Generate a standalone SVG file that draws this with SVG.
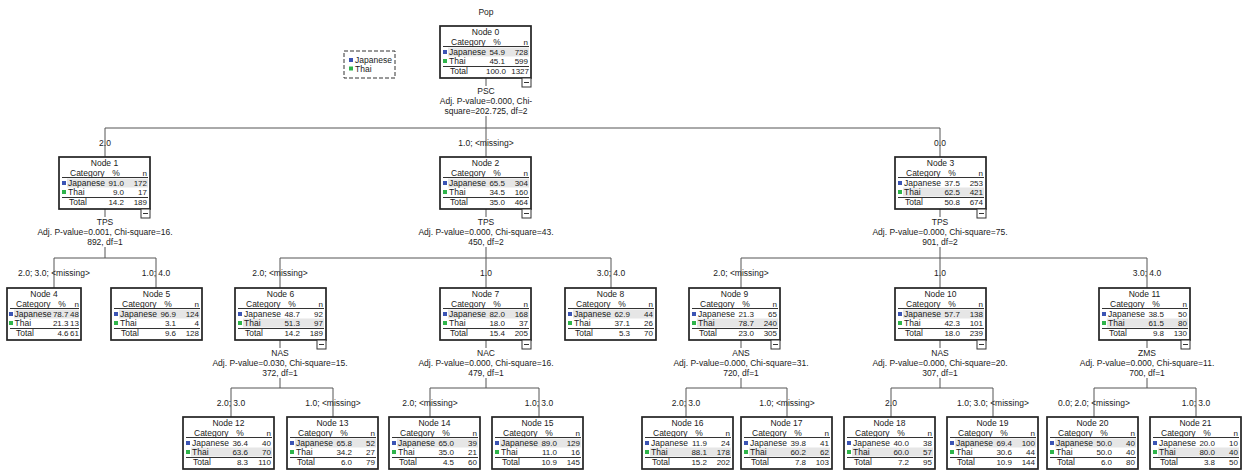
<svg xmlns="http://www.w3.org/2000/svg" width="1246" height="475" viewBox="0 0 1246 475">
<style>
text{font-family:"Liberation Sans",Arial,sans-serif;font-size:8.5px;fill:#1a1a1a}
.m{text-anchor:middle}
.e{text-anchor:end;font-size:8px}
.box{fill:#fff;stroke:#222;stroke-width:1.7}
.rule{stroke:#333;stroke-width:1.2}
.hl{fill:#e6e6e6}
.sj{fill:#3b54b4}
.st{fill:#2fb44a}
.cb{fill:#fff;stroke:#333;stroke-width:1}
.minus{stroke:#333;stroke-width:1}
.c{stroke:#555;stroke-width:1;fill:none}
.leg{fill:#fff;stroke:#333;stroke-width:1;stroke-dasharray:4 2}
</style>
<rect width="1246" height="475" fill="#fff"/>
<text class="m" x="486" y="15">Pop</text>
<g id="legend">
<rect class="leg" x="344" y="51" width="51" height="27"/>
<rect class="sj" x="349" y="58" width="4" height="4"/>
<text x="355" y="63">Japanese</text>
<rect class="st" x="349" y="66.5" width="4" height="4"/>
<text x="355" y="71.5">Thai</text>
</g>
<g id="connectors">
<path class="c" d="M486 78V86M486 116V128M105 128H940M105 128V157M486 128V157M940 128V157"/>
<path class="c" d="M105 209V217M105 247V258M54 258H156M54 258V288M156 258V288"/>
<path class="c" d="M486 209V217M486 247V258M280 258H611M280 258V288M486 258V288M611 258V288"/>
<path class="c" d="M940 209V217M940 247V258M741 258H1147M741 258V288M940 258V288M1147 258V288"/>
<path class="c" d="M280 340V348M280 378V388M231 388H333M231 388V417M333 388V417"/>
<path class="c" d="M486 340V348M486 378V388M430 388H539M430 388V417M539 388V417"/>
<path class="c" d="M741 340V348M741 378V388M686 388H787M686 388V417M787 388V417"/>
<path class="c" d="M940 340V348M940 378V388M891 388H993M891 388V417M993 388V417"/>
<path class="c" d="M1147 340V348M1147 378V388M1094 388H1196M1094 388V417M1196 388V417"/>
</g>
<g id="labels">
<text class="m" x="486" y="94">PSC</text>
<text class="m" x="486" y="104">Adj. P-value=0.000, Chi-</text>
<text class="m" x="486" y="114">square=202.725, df=2</text>
<text class="m" x="105" y="146">2.0</text>
<text class="m" x="486" y="146">1.0;  &lt;missing&gt;</text>
<text class="m" x="940" y="146">0.0</text>
<text class="m" x="105" y="225">TPS</text>
<text class="m" x="105" y="235">Adj. P-value=0.001, Chi-square=16.</text>
<text class="m" x="105" y="245">892, df=1</text>
<text class="m" x="486" y="225">TPS</text>
<text class="m" x="486" y="235">Adj. P-value=0.000, Chi-square=43.</text>
<text class="m" x="486" y="245">450, df=2</text>
<text class="m" x="940" y="225">TPS</text>
<text class="m" x="940" y="235">Adj. P-value=0.000, Chi-square=75.</text>
<text class="m" x="940" y="245">901, df=2</text>
<text class="m" x="54" y="276">2.0; 3.0;  &lt;missing&gt;</text>
<text class="m" x="156" y="276">1.0; 4.0</text>
<text class="m" x="280" y="276">2.0;  &lt;missing&gt;</text>
<text class="m" x="486" y="276">1.0</text>
<text class="m" x="611" y="276">3.0; 4.0</text>
<text class="m" x="741" y="276">2.0;  &lt;missing&gt;</text>
<text class="m" x="940" y="276">1.0</text>
<text class="m" x="1147" y="276">3.0; 4.0</text>
<text class="m" x="280" y="356">NAS</text>
<text class="m" x="280" y="366">Adj. P-value=0.030, Chi-square=15.</text>
<text class="m" x="280" y="376">372, df=1</text>
<text class="m" x="486" y="356">NAC</text>
<text class="m" x="486" y="366">Adj. P-value=0.000, Chi-square=16.</text>
<text class="m" x="486" y="376">479, df=1</text>
<text class="m" x="741" y="356">ANS</text>
<text class="m" x="741" y="366">Adj. P-value=0.000, Chi-square=31.</text>
<text class="m" x="741" y="376">720, df=1</text>
<text class="m" x="940" y="356">NAS</text>
<text class="m" x="940" y="366">Adj. P-value=0.000, Chi-square=20.</text>
<text class="m" x="940" y="376">307, df=1</text>
<text class="m" x="1147" y="356">ZMS</text>
<text class="m" x="1147" y="366">Adj. P-value=0.000, Chi-square=11.</text>
<text class="m" x="1147" y="376">700, df=1</text>
<text class="m" x="231" y="406">2.0; 3.0</text>
<text class="m" x="333" y="406">1.0;  &lt;missing&gt;</text>
<text class="m" x="430" y="406">2.0;  &lt;missing&gt;</text>
<text class="m" x="539" y="406">1.0; 3.0</text>
<text class="m" x="686" y="406">2.0; 3.0</text>
<text class="m" x="787" y="406">1.0;  &lt;missing&gt;</text>
<text class="m" x="891" y="406">2.0</text>
<text class="m" x="993" y="406">1.0; 3.0;  &lt;missing&gt;</text>
<text class="m" x="1094" y="406">0.0; 2.0;  &lt;missing&gt;</text>
<text class="m" x="1196" y="406">1.0; 3.0</text>
</g>
<g id="node-0" transform="translate(440,26)">
<rect class="box" width="91" height="52"/><text class="m" x="45.5" y="9">Node 0</text>
<text x="11" y="19">Category</text><text class="m" x="57" y="19">%</text><text class="e" x="88" y="19">n</text>
<line class="rule" x1="3" y1="20.5" x2="89" y2="20.5"/><rect class="hl" x="8" y="21.5" width="81" height="9"/>
<rect class="sj" x="3" y="24" width="4" height="4"/><text x="9" y="29">Japanese</text><text class="e" x="65" y="29">54.9</text><text class="e" x="88" y="29">728</text>
<rect class="st" x="3" y="33" width="4" height="4"/><text x="9" y="38">Thai</text><text class="e" x="65" y="38">45.1</text><text class="e" x="88" y="38">599</text>
<line class="rule" x1="3" y1="40.5" x2="89" y2="40.5"/><text x="10" y="48">Total</text><text class="e" x="66" y="48">100.0</text><text class="e" x="89" y="48">1327</text>
<rect class="cb" x="82" y="52" width="9" height="9"/><line class="minus" x1="84" y1="56.5" x2="89" y2="56.5"/>
</g>
<g id="node-1" transform="translate(59,157)">
<rect class="box" width="91" height="52"/><text class="m" x="45.5" y="9">Node 1</text>
<text x="11" y="19">Category</text><text class="m" x="57" y="19">%</text><text class="e" x="88" y="19">n</text>
<line class="rule" x1="3" y1="20.5" x2="89" y2="20.5"/><rect class="hl" x="8" y="21.5" width="81" height="9"/>
<rect class="sj" x="3" y="24" width="4" height="4"/><text x="9" y="29">Japanese</text><text class="e" x="65" y="29">91.0</text><text class="e" x="88" y="29">172</text>
<rect class="st" x="3" y="33" width="4" height="4"/><text x="9" y="38">Thai</text><text class="e" x="65" y="38">9.0</text><text class="e" x="88" y="38">17</text>
<line class="rule" x1="3" y1="40.5" x2="89" y2="40.5"/><text x="10" y="48">Total</text><text class="e" x="65" y="48">14.2</text><text class="e" x="88" y="48">189</text>
<rect class="cb" x="82" y="52" width="9" height="9"/><line class="minus" x1="84" y1="56.5" x2="89" y2="56.5"/>
</g>
<g id="node-2" transform="translate(440,157)">
<rect class="box" width="91" height="52"/><text class="m" x="45.5" y="9">Node 2</text>
<text x="11" y="19">Category</text><text class="m" x="57" y="19">%</text><text class="e" x="88" y="19">n</text>
<line class="rule" x1="3" y1="20.5" x2="89" y2="20.5"/><rect class="hl" x="8" y="21.5" width="81" height="9"/>
<rect class="sj" x="3" y="24" width="4" height="4"/><text x="9" y="29">Japanese</text><text class="e" x="65" y="29">65.5</text><text class="e" x="88" y="29">304</text>
<rect class="st" x="3" y="33" width="4" height="4"/><text x="9" y="38">Thai</text><text class="e" x="65" y="38">34.5</text><text class="e" x="88" y="38">160</text>
<line class="rule" x1="3" y1="40.5" x2="89" y2="40.5"/><text x="10" y="48">Total</text><text class="e" x="65" y="48">35.0</text><text class="e" x="88" y="48">464</text>
<rect class="cb" x="82" y="52" width="9" height="9"/><line class="minus" x1="84" y1="56.5" x2="89" y2="56.5"/>
</g>
<g id="node-3" transform="translate(895,157)">
<rect class="box" width="91" height="52"/><text class="m" x="45.5" y="9">Node 3</text>
<text x="11" y="19">Category</text><text class="m" x="57" y="19">%</text><text class="e" x="88" y="19">n</text>
<line class="rule" x1="3" y1="20.5" x2="89" y2="20.5"/><rect class="hl" x="8" y="30.5" width="81" height="9"/>
<rect class="sj" x="3" y="24" width="4" height="4"/><text x="9" y="29">Japanese</text><text class="e" x="65" y="29">37.5</text><text class="e" x="88" y="29">253</text>
<rect class="st" x="3" y="33" width="4" height="4"/><text x="9" y="38">Thai</text><text class="e" x="65" y="38">62.5</text><text class="e" x="88" y="38">421</text>
<line class="rule" x1="3" y1="40.5" x2="89" y2="40.5"/><text x="10" y="48">Total</text><text class="e" x="65" y="48">50.8</text><text class="e" x="88" y="48">674</text>
<rect class="cb" x="82" y="52" width="9" height="9"/><line class="minus" x1="84" y1="56.5" x2="89" y2="56.5"/>
</g>
<g id="node-4" transform="translate(7,288)">
<rect class="box" width="74" height="52"/><text class="m" x="37" y="9">Node 4</text>
<text x="9" y="19">Category</text><text class="m" x="55" y="19">%</text><text class="e" x="72" y="19">n</text>
<line class="rule" x1="3" y1="20.5" x2="72" y2="20.5"/><rect class="hl" x="7" y="21.5" width="65" height="9"/>
<rect class="sj" x="2" y="24" width="4" height="4"/><text x="7.5" y="29">Japanese</text><text class="e" x="61.5" y="29">78.7</text><text class="e" x="72" y="29">48</text>
<rect class="st" x="2" y="33" width="4" height="4"/><text x="7.5" y="38">Thai</text><text class="e" x="61.5" y="38">21.3</text><text class="e" x="72" y="38">13</text>
<line class="rule" x1="3" y1="40.5" x2="72" y2="40.5"/><text x="9" y="48">Total</text><text class="e" x="61.5" y="48">4.6</text><text class="e" x="72" y="48">61</text>
</g>
<g id="node-5" transform="translate(111,288)">
<rect class="box" width="91" height="52"/><text class="m" x="45.5" y="9">Node 5</text>
<text x="11" y="19">Category</text><text class="m" x="57" y="19">%</text><text class="e" x="88" y="19">n</text>
<line class="rule" x1="3" y1="20.5" x2="89" y2="20.5"/><rect class="hl" x="8" y="21.5" width="81" height="9"/>
<rect class="sj" x="3" y="24" width="4" height="4"/><text x="9" y="29">Japanese</text><text class="e" x="65" y="29">96.9</text><text class="e" x="88" y="29">124</text>
<rect class="st" x="3" y="33" width="4" height="4"/><text x="9" y="38">Thai</text><text class="e" x="65" y="38">3.1</text><text class="e" x="88" y="38">4</text>
<line class="rule" x1="3" y1="40.5" x2="89" y2="40.5"/><text x="10" y="48">Total</text><text class="e" x="65" y="48">9.6</text><text class="e" x="88" y="48">128</text>
</g>
<g id="node-6" transform="translate(235,288)">
<rect class="box" width="91" height="52"/><text class="m" x="45.5" y="9">Node 6</text>
<text x="11" y="19">Category</text><text class="m" x="57" y="19">%</text><text class="e" x="88" y="19">n</text>
<line class="rule" x1="3" y1="20.5" x2="89" y2="20.5"/><rect class="hl" x="8" y="30.5" width="81" height="9"/>
<rect class="sj" x="3" y="24" width="4" height="4"/><text x="9" y="29">Japanese</text><text class="e" x="65" y="29">48.7</text><text class="e" x="88" y="29">92</text>
<rect class="st" x="3" y="33" width="4" height="4"/><text x="9" y="38">Thai</text><text class="e" x="65" y="38">51.3</text><text class="e" x="88" y="38">97</text>
<line class="rule" x1="3" y1="40.5" x2="89" y2="40.5"/><text x="10" y="48">Total</text><text class="e" x="65" y="48">14.2</text><text class="e" x="88" y="48">189</text>
<rect class="cb" x="82" y="52" width="9" height="9"/><line class="minus" x1="84" y1="56.5" x2="89" y2="56.5"/>
</g>
<g id="node-7" transform="translate(440,288)">
<rect class="box" width="91" height="52"/><text class="m" x="45.5" y="9">Node 7</text>
<text x="11" y="19">Category</text><text class="m" x="57" y="19">%</text><text class="e" x="88" y="19">n</text>
<line class="rule" x1="3" y1="20.5" x2="89" y2="20.5"/><rect class="hl" x="8" y="21.5" width="81" height="9"/>
<rect class="sj" x="3" y="24" width="4" height="4"/><text x="9" y="29">Japanese</text><text class="e" x="65" y="29">82.0</text><text class="e" x="88" y="29">168</text>
<rect class="st" x="3" y="33" width="4" height="4"/><text x="9" y="38">Thai</text><text class="e" x="65" y="38">18.0</text><text class="e" x="88" y="38">37</text>
<line class="rule" x1="3" y1="40.5" x2="89" y2="40.5"/><text x="10" y="48">Total</text><text class="e" x="65" y="48">15.4</text><text class="e" x="88" y="48">205</text>
<rect class="cb" x="82" y="52" width="9" height="9"/><line class="minus" x1="84" y1="56.5" x2="89" y2="56.5"/>
</g>
<g id="node-8" transform="translate(565,288)">
<rect class="box" width="91" height="52"/><text class="m" x="45.5" y="9">Node 8</text>
<text x="11" y="19">Category</text><text class="m" x="57" y="19">%</text><text class="e" x="88" y="19">n</text>
<line class="rule" x1="3" y1="20.5" x2="89" y2="20.5"/><rect class="hl" x="8" y="21.5" width="81" height="9"/>
<rect class="sj" x="3" y="24" width="4" height="4"/><text x="9" y="29">Japanese</text><text class="e" x="65" y="29">62.9</text><text class="e" x="88" y="29">44</text>
<rect class="st" x="3" y="33" width="4" height="4"/><text x="9" y="38">Thai</text><text class="e" x="65" y="38">37.1</text><text class="e" x="88" y="38">26</text>
<line class="rule" x1="3" y1="40.5" x2="89" y2="40.5"/><text x="10" y="48">Total</text><text class="e" x="65" y="48">5.3</text><text class="e" x="88" y="48">70</text>
</g>
<g id="node-9" transform="translate(689,288)">
<rect class="box" width="91" height="52"/><text class="m" x="45.5" y="9">Node 9</text>
<text x="11" y="19">Category</text><text class="m" x="57" y="19">%</text><text class="e" x="88" y="19">n</text>
<line class="rule" x1="3" y1="20.5" x2="89" y2="20.5"/><rect class="hl" x="8" y="30.5" width="81" height="9"/>
<rect class="sj" x="3" y="24" width="4" height="4"/><text x="9" y="29">Japanese</text><text class="e" x="65" y="29">21.3</text><text class="e" x="88" y="29">65</text>
<rect class="st" x="3" y="33" width="4" height="4"/><text x="9" y="38">Thai</text><text class="e" x="65" y="38">78.7</text><text class="e" x="88" y="38">240</text>
<line class="rule" x1="3" y1="40.5" x2="89" y2="40.5"/><text x="10" y="48">Total</text><text class="e" x="65" y="48">23.0</text><text class="e" x="88" y="48">305</text>
<rect class="cb" x="82" y="52" width="9" height="9"/><line class="minus" x1="84" y1="56.5" x2="89" y2="56.5"/>
</g>
<g id="node-10" transform="translate(895,288)">
<rect class="box" width="91" height="52"/><text class="m" x="45.5" y="9">Node 10</text>
<text x="11" y="19">Category</text><text class="m" x="57" y="19">%</text><text class="e" x="88" y="19">n</text>
<line class="rule" x1="3" y1="20.5" x2="89" y2="20.5"/><rect class="hl" x="8" y="21.5" width="81" height="9"/>
<rect class="sj" x="3" y="24" width="4" height="4"/><text x="9" y="29">Japanese</text><text class="e" x="65" y="29">57.7</text><text class="e" x="88" y="29">138</text>
<rect class="st" x="3" y="33" width="4" height="4"/><text x="9" y="38">Thai</text><text class="e" x="65" y="38">42.3</text><text class="e" x="88" y="38">101</text>
<line class="rule" x1="3" y1="40.5" x2="89" y2="40.5"/><text x="10" y="48">Total</text><text class="e" x="65" y="48">18.0</text><text class="e" x="88" y="48">239</text>
<rect class="cb" x="82" y="52" width="9" height="9"/><line class="minus" x1="84" y1="56.5" x2="89" y2="56.5"/>
</g>
<g id="node-11" transform="translate(1099,288)">
<rect class="box" width="91" height="52"/><text class="m" x="45.5" y="9">Node 11</text>
<text x="11" y="19">Category</text><text class="m" x="57" y="19">%</text><text class="e" x="88" y="19">n</text>
<line class="rule" x1="3" y1="20.5" x2="89" y2="20.5"/><rect class="hl" x="8" y="30.5" width="81" height="9"/>
<rect class="sj" x="3" y="24" width="4" height="4"/><text x="9" y="29">Japanese</text><text class="e" x="65" y="29">38.5</text><text class="e" x="88" y="29">50</text>
<rect class="st" x="3" y="33" width="4" height="4"/><text x="9" y="38">Thai</text><text class="e" x="65" y="38">61.5</text><text class="e" x="88" y="38">80</text>
<line class="rule" x1="3" y1="40.5" x2="89" y2="40.5"/><text x="10" y="48">Total</text><text class="e" x="65" y="48">9.8</text><text class="e" x="88" y="48">130</text>
<rect class="cb" x="82" y="52" width="9" height="9"/><line class="minus" x1="84" y1="56.5" x2="89" y2="56.5"/>
</g>
<g id="node-12" transform="translate(183,417)">
<rect class="box" width="91" height="52"/><text class="m" x="45.5" y="9">Node 12</text>
<text x="11" y="19">Category</text><text class="m" x="57" y="19">%</text><text class="e" x="88" y="19">n</text>
<line class="rule" x1="3" y1="20.5" x2="89" y2="20.5"/><rect class="hl" x="8" y="30.5" width="81" height="9"/>
<rect class="sj" x="3" y="24" width="4" height="4"/><text x="9" y="29">Japanese</text><text class="e" x="65" y="29">36.4</text><text class="e" x="88" y="29">40</text>
<rect class="st" x="3" y="33" width="4" height="4"/><text x="9" y="38">Thai</text><text class="e" x="65" y="38">63.6</text><text class="e" x="88" y="38">70</text>
<line class="rule" x1="3" y1="40.5" x2="89" y2="40.5"/><text x="10" y="48">Total</text><text class="e" x="65" y="48">8.3</text><text class="e" x="88" y="48">110</text>
</g>
<g id="node-13" transform="translate(287,417)">
<rect class="box" width="91" height="52"/><text class="m" x="45.5" y="9">Node 13</text>
<text x="11" y="19">Category</text><text class="m" x="57" y="19">%</text><text class="e" x="88" y="19">n</text>
<line class="rule" x1="3" y1="20.5" x2="89" y2="20.5"/><rect class="hl" x="8" y="21.5" width="81" height="9"/>
<rect class="sj" x="3" y="24" width="4" height="4"/><text x="9" y="29">Japanese</text><text class="e" x="65" y="29">65.8</text><text class="e" x="88" y="29">52</text>
<rect class="st" x="3" y="33" width="4" height="4"/><text x="9" y="38">Thai</text><text class="e" x="65" y="38">34.2</text><text class="e" x="88" y="38">27</text>
<line class="rule" x1="3" y1="40.5" x2="89" y2="40.5"/><text x="10" y="48">Total</text><text class="e" x="65" y="48">6.0</text><text class="e" x="88" y="48">79</text>
</g>
<g id="node-14" transform="translate(389,417)">
<rect class="box" width="91" height="52"/><text class="m" x="45.5" y="9">Node 14</text>
<text x="11" y="19">Category</text><text class="m" x="57" y="19">%</text><text class="e" x="88" y="19">n</text>
<line class="rule" x1="3" y1="20.5" x2="89" y2="20.5"/><rect class="hl" x="8" y="21.5" width="81" height="9"/>
<rect class="sj" x="3" y="24" width="4" height="4"/><text x="9" y="29">Japanese</text><text class="e" x="65" y="29">65.0</text><text class="e" x="88" y="29">39</text>
<rect class="st" x="3" y="33" width="4" height="4"/><text x="9" y="38">Thai</text><text class="e" x="65" y="38">35.0</text><text class="e" x="88" y="38">21</text>
<line class="rule" x1="3" y1="40.5" x2="89" y2="40.5"/><text x="10" y="48">Total</text><text class="e" x="65" y="48">4.5</text><text class="e" x="88" y="48">60</text>
</g>
<g id="node-15" transform="translate(492,417)">
<rect class="box" width="91" height="52"/><text class="m" x="45.5" y="9">Node 15</text>
<text x="11" y="19">Category</text><text class="m" x="57" y="19">%</text><text class="e" x="88" y="19">n</text>
<line class="rule" x1="3" y1="20.5" x2="89" y2="20.5"/><rect class="hl" x="8" y="21.5" width="81" height="9"/>
<rect class="sj" x="3" y="24" width="4" height="4"/><text x="9" y="29">Japanese</text><text class="e" x="65" y="29">89.0</text><text class="e" x="88" y="29">129</text>
<rect class="st" x="3" y="33" width="4" height="4"/><text x="9" y="38">Thai</text><text class="e" x="65" y="38">11.0</text><text class="e" x="88" y="38">16</text>
<line class="rule" x1="3" y1="40.5" x2="89" y2="40.5"/><text x="10" y="48">Total</text><text class="e" x="65" y="48">10.9</text><text class="e" x="88" y="48">145</text>
</g>
<g id="node-16" transform="translate(642,417)">
<rect class="box" width="91" height="52"/><text class="m" x="45.5" y="9">Node 16</text>
<text x="11" y="19">Category</text><text class="m" x="57" y="19">%</text><text class="e" x="88" y="19">n</text>
<line class="rule" x1="3" y1="20.5" x2="89" y2="20.5"/><rect class="hl" x="8" y="30.5" width="81" height="9"/>
<rect class="sj" x="3" y="24" width="4" height="4"/><text x="9" y="29">Japanese</text><text class="e" x="65" y="29">11.9</text><text class="e" x="88" y="29">24</text>
<rect class="st" x="3" y="33" width="4" height="4"/><text x="9" y="38">Thai</text><text class="e" x="65" y="38">88.1</text><text class="e" x="88" y="38">178</text>
<line class="rule" x1="3" y1="40.5" x2="89" y2="40.5"/><text x="10" y="48">Total</text><text class="e" x="65" y="48">15.2</text><text class="e" x="88" y="48">202</text>
</g>
<g id="node-17" transform="translate(741,417)">
<rect class="box" width="91" height="52"/><text class="m" x="45.5" y="9">Node 17</text>
<text x="11" y="19">Category</text><text class="m" x="57" y="19">%</text><text class="e" x="88" y="19">n</text>
<line class="rule" x1="3" y1="20.5" x2="89" y2="20.5"/><rect class="hl" x="8" y="30.5" width="81" height="9"/>
<rect class="sj" x="3" y="24" width="4" height="4"/><text x="9" y="29">Japanese</text><text class="e" x="65" y="29">39.8</text><text class="e" x="88" y="29">41</text>
<rect class="st" x="3" y="33" width="4" height="4"/><text x="9" y="38">Thai</text><text class="e" x="65" y="38">60.2</text><text class="e" x="88" y="38">62</text>
<line class="rule" x1="3" y1="40.5" x2="89" y2="40.5"/><text x="10" y="48">Total</text><text class="e" x="65" y="48">7.8</text><text class="e" x="88" y="48">103</text>
</g>
<g id="node-18" transform="translate(844,417)">
<rect class="box" width="91" height="52"/><text class="m" x="45.5" y="9">Node 18</text>
<text x="11" y="19">Category</text><text class="m" x="57" y="19">%</text><text class="e" x="88" y="19">n</text>
<line class="rule" x1="3" y1="20.5" x2="89" y2="20.5"/><rect class="hl" x="8" y="30.5" width="81" height="9"/>
<rect class="sj" x="3" y="24" width="4" height="4"/><text x="9" y="29">Japanese</text><text class="e" x="65" y="29">40.0</text><text class="e" x="88" y="29">38</text>
<rect class="st" x="3" y="33" width="4" height="4"/><text x="9" y="38">Thai</text><text class="e" x="65" y="38">60.0</text><text class="e" x="88" y="38">57</text>
<line class="rule" x1="3" y1="40.5" x2="89" y2="40.5"/><text x="10" y="48">Total</text><text class="e" x="65" y="48">7.2</text><text class="e" x="88" y="48">95</text>
</g>
<g id="node-19" transform="translate(947,417)">
<rect class="box" width="91" height="52"/><text class="m" x="45.5" y="9">Node 19</text>
<text x="11" y="19">Category</text><text class="m" x="57" y="19">%</text><text class="e" x="88" y="19">n</text>
<line class="rule" x1="3" y1="20.5" x2="89" y2="20.5"/><rect class="hl" x="8" y="21.5" width="81" height="9"/>
<rect class="sj" x="3" y="24" width="4" height="4"/><text x="9" y="29">Japanese</text><text class="e" x="65" y="29">69.4</text><text class="e" x="88" y="29">100</text>
<rect class="st" x="3" y="33" width="4" height="4"/><text x="9" y="38">Thai</text><text class="e" x="65" y="38">30.6</text><text class="e" x="88" y="38">44</text>
<line class="rule" x1="3" y1="40.5" x2="89" y2="40.5"/><text x="10" y="48">Total</text><text class="e" x="65" y="48">10.9</text><text class="e" x="88" y="48">144</text>
</g>
<g id="node-20" transform="translate(1047,417)">
<rect class="box" width="91" height="52"/><text class="m" x="45.5" y="9">Node 20</text>
<text x="11" y="19">Category</text><text class="m" x="57" y="19">%</text><text class="e" x="88" y="19">n</text>
<line class="rule" x1="3" y1="20.5" x2="89" y2="20.5"/><rect class="hl" x="8" y="21.5" width="81" height="9"/>
<rect class="sj" x="3" y="24" width="4" height="4"/><text x="9" y="29">Japanese</text><text class="e" x="65" y="29">50.0</text><text class="e" x="88" y="29">40</text>
<rect class="st" x="3" y="33" width="4" height="4"/><text x="9" y="38">Thai</text><text class="e" x="65" y="38">50.0</text><text class="e" x="88" y="38">40</text>
<line class="rule" x1="3" y1="40.5" x2="89" y2="40.5"/><text x="10" y="48">Total</text><text class="e" x="65" y="48">6.0</text><text class="e" x="88" y="48">80</text>
</g>
<g id="node-21" transform="translate(1150,417)">
<rect class="box" width="91" height="52"/><text class="m" x="45.5" y="9">Node 21</text>
<text x="11" y="19">Category</text><text class="m" x="57" y="19">%</text><text class="e" x="88" y="19">n</text>
<line class="rule" x1="3" y1="20.5" x2="89" y2="20.5"/><rect class="hl" x="8" y="30.5" width="81" height="9"/>
<rect class="sj" x="3" y="24" width="4" height="4"/><text x="9" y="29">Japanese</text><text class="e" x="65" y="29">20.0</text><text class="e" x="88" y="29">10</text>
<rect class="st" x="3" y="33" width="4" height="4"/><text x="9" y="38">Thai</text><text class="e" x="65" y="38">80.0</text><text class="e" x="88" y="38">40</text>
<line class="rule" x1="3" y1="40.5" x2="89" y2="40.5"/><text x="10" y="48">Total</text><text class="e" x="65" y="48">3.8</text><text class="e" x="88" y="48">50</text>
</g>
</svg>
